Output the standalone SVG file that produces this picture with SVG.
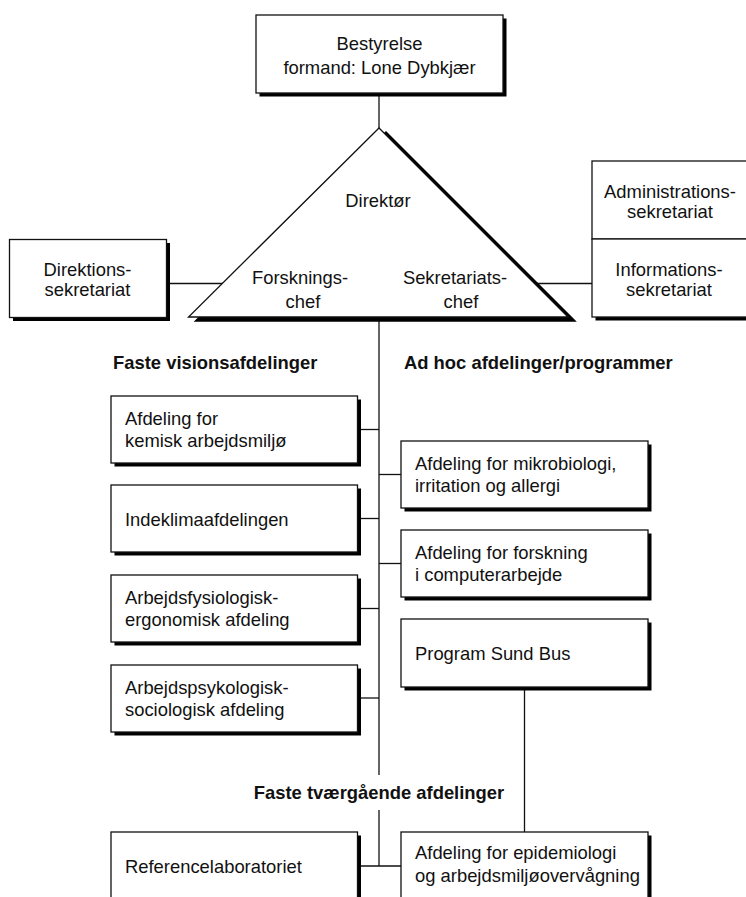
<svg xmlns="http://www.w3.org/2000/svg" width="746" height="897" viewBox="0 0 746 897">
<style>
.box{fill:#fff;stroke:#111;stroke-width:1.3}
.sh{fill:#000}
.t{font-family:"Liberation Sans",Arial,Helvetica,sans-serif;font-size:18.4px;fill:#111}
.c{text-anchor:middle}
.b{font-weight:bold}
.ln{stroke:#111;stroke-width:1.3;fill:none}
</style>
<rect width="746" height="897" fill="#fff"/>
<g id="connectors">
<line class="ln" x1="379" y1="93" x2="379" y2="130"/>
<line class="ln" x1="379" y1="317" x2="379" y2="775"/>
<line class="ln" x1="379" y1="810" x2="379" y2="866"/>
<line class="ln" x1="167" y1="283.5" x2="240" y2="283.5"/>
<line class="ln" x1="520" y1="283.5" x2="592" y2="283.5"/>
<line class="ln" x1="357" y1="429.5" x2="379" y2="429.5"/>
<line class="ln" x1="357" y1="518.5" x2="379" y2="518.5"/>
<line class="ln" x1="357" y1="608.5" x2="379" y2="608.5"/>
<line class="ln" x1="357" y1="698" x2="379" y2="698"/>
<line class="ln" x1="379" y1="474.5" x2="401" y2="474.5"/>
<line class="ln" x1="379" y1="563.5" x2="401" y2="563.5"/>
<line class="ln" x1="357" y1="866" x2="401" y2="866"/>
<line class="ln" x1="524.5" y1="687" x2="524.5" y2="832"/>
</g>
<g id="bestyrelse">
<rect class="sh" x="259.5" y="18.5" width="247" height="78"/>
<rect class="box" x="256" y="15" width="247" height="78"/>
<text class="t c" x="379.5" y="50">Bestyrelse</text>
<text class="t c" x="379.5" y="74">formand: Lone Dybkjær</text>
</g>
<g id="direktion">
<polygon points="386,132 195.5,321 575,321" fill="#000" stroke="#000" stroke-width="1.5"/>
<polygon class="box" points="379,128 188.5,317 568,317"/>
<text class="t c" x="378" y="207">Direktør</text>
<text class="t c" x="300" y="284">Forsknings-</text>
<text class="t c" x="303" y="308">chef</text>
<text class="t c" x="455" y="284">Sekretariats-</text>
<text class="t c" x="461" y="308">chef</text>
</g>
<g id="direktionssekretariat">
<rect class="sh" x="13" y="243" width="157" height="78"/>
<rect class="box" x="9.5" y="239.5" width="157" height="78"/>
<text class="t c" x="87.5" y="276">Direktions-</text>
<text class="t c" x="87.5" y="296">sekretariat</text>
</g>
<g id="administrationssekretariat">
<rect class="sh" x="595.5" y="164.5" width="170" height="156"/>
<rect class="box" x="592" y="161" width="170" height="78"/>
<text class="t c" x="670" y="198">Administrations-</text>
<text class="t c" x="670" y="218">sekretariat</text>
</g>
<g id="informationssekretariat">
<rect class="box" x="592" y="239" width="170" height="78"/>
<text class="t c" x="669" y="276">Informations-</text>
<text class="t c" x="669" y="296">sekretariat</text>
</g>
<g id="header-faste">
<text class="t b" x="113" y="369">Faste visionsafdelinger</text>
</g>
<g id="header-adhoc">
<text class="t b" x="404" y="369">Ad hoc afdelinger/programmer</text>
</g>
<g id="kemisk">
<rect class="sh" x="114.5" y="399.5" width="246.5" height="67"/>
<rect class="box" x="111" y="396" width="246.5" height="67"/>
<text class="t" x="125" y="425">Afdeling for</text>
<text class="t" x="125" y="447">kemisk arbejdsmiljø</text>
</g>
<g id="indeklima">
<rect class="sh" x="114.5" y="488.5" width="246.5" height="67"/>
<rect class="box" x="111" y="485" width="246.5" height="67"/>
<text class="t" x="125" y="525.5">Indeklimaafdelingen</text>
</g>
<g id="fysiologisk">
<rect class="sh" x="114.5" y="578.5" width="246.5" height="67"/>
<rect class="box" x="111" y="575" width="246.5" height="67"/>
<text class="t" x="125" y="604">Arbejdsfysiologisk-</text>
<text class="t" x="125" y="626">ergonomisk afdeling</text>
</g>
<g id="psykologisk">
<rect class="sh" x="114.5" y="668.5" width="246.5" height="67"/>
<rect class="box" x="111" y="665" width="246.5" height="67"/>
<text class="t" x="125" y="693.5">Arbejdspsykologisk-</text>
<text class="t" x="125" y="715.5">sociologisk afdeling</text>
</g>
<g id="mikrobiologi">
<rect class="sh" x="404.5" y="444.5" width="247" height="67"/>
<rect class="box" x="401" y="441" width="247" height="67"/>
<text class="t" x="415" y="470">Afdeling for mikrobiologi,</text>
<text class="t" x="415" y="492">irritation og allergi</text>
</g>
<g id="computerarbejde">
<rect class="sh" x="404.5" y="533.5" width="247" height="67"/>
<rect class="box" x="401" y="530" width="247" height="67"/>
<text class="t" x="415" y="559">Afdeling for forskning</text>
<text class="t" x="415" y="581">i computerarbejde</text>
</g>
<g id="sundbus">
<rect class="sh" x="404.5" y="622.5" width="247" height="68"/>
<rect class="box" x="401" y="619" width="247" height="68"/>
<text class="t" x="415" y="660">Program Sund Bus</text>
</g>
<g id="header-tvaergaaende">
<text class="t b c" x="379" y="799">Faste tværgående afdelinger</text>
</g>
<g id="referencelaboratoriet">
<rect class="sh" x="114.5" y="835.5" width="246.5" height="80"/>
<rect class="box" x="111" y="832" width="246.5" height="80"/>
<text class="t" x="125" y="872.5">Referencelaboratoriet</text>
</g>
<g id="epidemiologi">
<rect class="sh" x="404.5" y="835.5" width="247" height="80"/>
<rect class="box" x="401" y="832" width="247" height="80"/>
<text class="t" x="415" y="859">Afdeling for epidemiologi</text>
<text class="t" x="415" y="881.5">og arbejdsmiljøovervågning</text>
</g>
</svg>
